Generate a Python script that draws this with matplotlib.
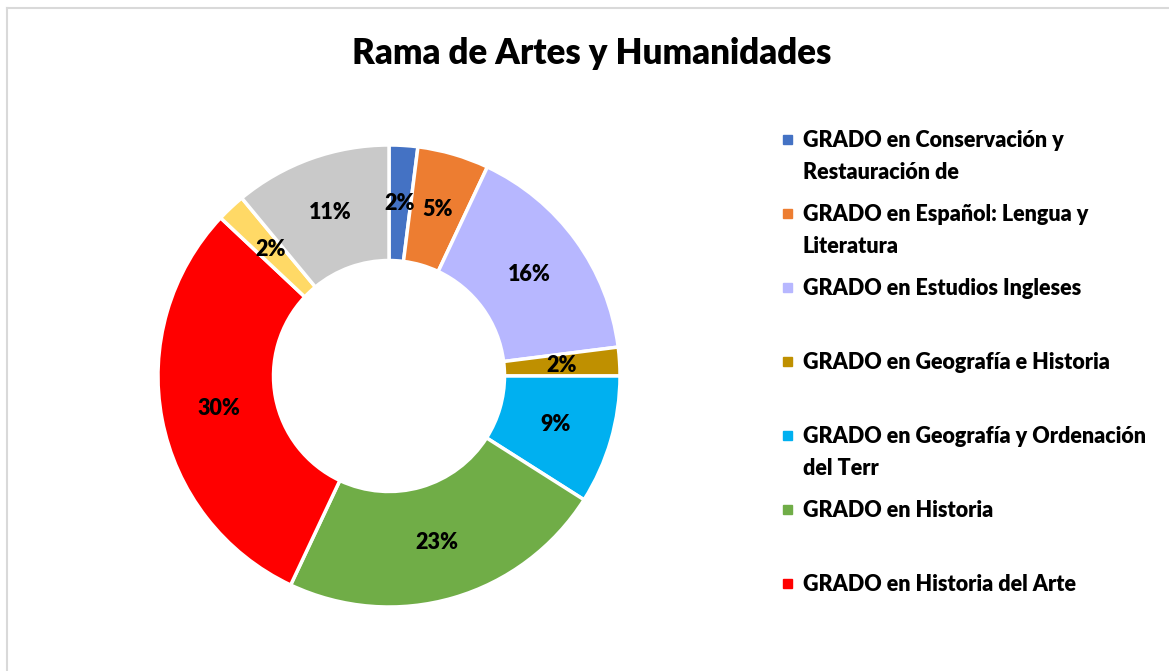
import matplotlib
matplotlib.use("Agg")
import matplotlib.pyplot as plt
from matplotlib.patches import Rectangle
from matplotlib.lines import Line2D

plt.rcParams['font.family'] = ['Lato', 'DejaVu Sans']

# data (percent of students), clockwise from 12 o'clock
grados = [
    "GRADO en Conservación y\nRestauración de",
    "GRADO en Español: Lengua y\nLiteratura",
    "GRADO en Estudios Ingleses",
    "GRADO en Geografía e Historia",
    "GRADO en Geografía y Ordenación\ndel Terr",
    "GRADO en Historia",
    "GRADO en Historia del Arte",
    "GRADO en Humanidades",
    "GRADO en Traducción e Interpretación",
]
porcentajes = [2, 5, 16, 2, 9, 23, 30, 2, 11]
colores = ["#4472C4", "#ED7D31", "#B7B7FF", "#BF9000", "#00B0F0",
           "#70AD47", "#FF0000", "#FFD966", "#C9C9C9"]
n_leyenda = 7  # the legend box only shows the first seven

W, H = 1169, 671
fig = plt.figure(figsize=(W / 100, H / 100), dpi=100)

# pie: centre (389, 376) px, radius 231 px
cx, cy, r = 389, 376, 231
ax = fig.add_axes([(cx - r) / W, (H - cy - r) / H, 2 * r / W, 2 * r / H])
wedges, texts, autotexts = ax.pie(
    porcentajes, colors=colores, startangle=90, counterclock=False,
    radius=1, autopct='%.0f%%', pctdistance=0.75,
    wedgeprops=dict(width=0.5, edgecolor='white', linewidth=2.5),
    textprops=dict(fontsize=15.5, fontweight='heavy', color='black'))
ax.set_xlim(-1, 1)
ax.set_ylim(-1, 1)
ax.set_aspect('equal')

fig.text(592 / W, 1 - 54 / H, "Rama de Artes y Humanidades",
         ha='center', va='center', fontsize=25, fontweight='heavy')

# legend drawn by hand to keep Excel's spacing
y0, paso = 140, 74
for i in range(n_leyenda):
    y = y0 + i * paso
    fig.patches.append(Rectangle(((787 - 4) / W, 1 - (y + 4) / H), 9 / W, 9 / H,
                                 transform=fig.transFigure, color=colores[i]))
    fig.text(803 / W, 1 - (y - 10) / H, grados[i], ha='left', va='top',
             fontsize=15.5, fontweight='heavy', linespacing=1.62)

# chart frame (only left and top edges are in view)
fig.add_artist(Line2D([7 / W, 7 / W], [0, 1 - 8 / H], transform=fig.transFigure,
                      color='#D9D9D9', lw=1.5))
fig.add_artist(Line2D([7 / W, 1], [1 - 8 / H, 1 - 8 / H], transform=fig.transFigure,
                      color='#D9D9D9', lw=1.5))

fig.savefig("out.png", dpi=100)
